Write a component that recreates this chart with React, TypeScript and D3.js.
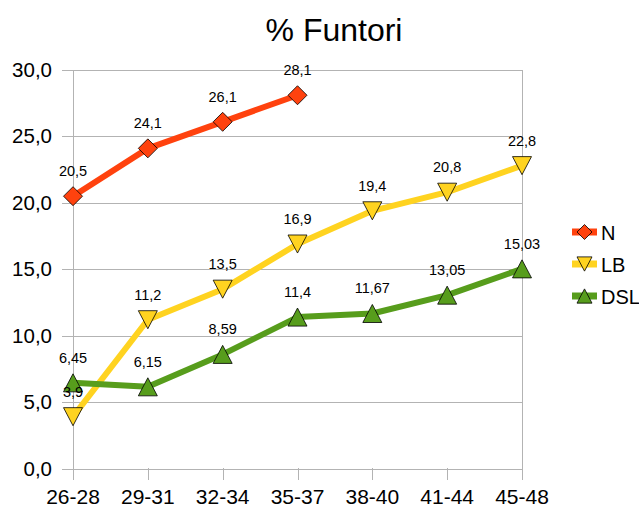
import { useEffect, useRef } from 'react';
import * as d3 from 'd3';

const W = 639;
const H = 515;

const categories = ['26-28', '29-31', '32-34', '35-37', '38-40', '41-44', '45-48'];
const nValues = [20.5, 24.1, 26.1, 28.1];
const lbValues = [3.9, 11.2, 13.5, 16.9, 19.4, 20.8, 22.8];
const dslValues = [6.45, 6.15, 8.59, 11.4, 11.67, 13.05, 15.03];
const yTicks = [0, 5, 10, 15, 20, 25, 30];

const series = [
  { name: 'N', values: nValues, color: '#ff420e', marker: 'diamond' },
  { name: 'LB', values: lbValues, color: '#ffd320', marker: 'down' },
  { name: 'DSL', values: dslValues, color: '#579d1c', marker: 'up' },
];

const FONT = 'Liberation Sans, Arial, sans-serif';
const GRID = '#b3b3b3';

function markerPath(kind: string, r: number) {
  if (kind === 'diamond') return `M0,${-r}L${r},0L0,${r}L${-r},0Z`;
  if (kind === 'down') return `M${-r},${-r * 0.95}L${r},${-r * 0.95}L0,${r * 0.95}Z`;
  return `M${-r},${r * 0.95}L${r},${r * 0.95}L0,${-r * 0.95}Z`;
}

const fmt = (v: number) => String(v).replace('.', ',');

export default function App() {
  const ref = useRef<SVGSVGElement>(null);

  useEffect(() => {
    const svg = d3.select(ref.current);
    svg.selectAll('*').remove();

    const x = d3.scalePoint<string>().domain(categories).range([73, 522]).padding(0);
    const y = d3.scaleLinear().domain([0, 30]).range([468.5, 70]);

    svg.append('text').attr('x', 334).attr('y', 41).attr('text-anchor', 'middle')
      .attr('font-family', FONT).attr('font-size', 32).attr('fill', '#000').text('% Funtori');

    const grid = svg.append('g');
    grid.selectAll('line.h').data(yTicks).join('line')
      .attr('x1', 62).attr('x2', 522)
      .attr('y1', (d) => Math.round(y(d)) + 0.5).attr('y2', (d) => Math.round(y(d)) + 0.5)
      .attr('stroke', GRID).attr('stroke-width', 1);
    grid.selectAll('line.v').data(categories).join('line')
      .attr('x1', (d) => Math.round(x(d)!) + 0.5).attr('x2', (d) => Math.round(x(d)!) + 0.5)
      .attr('y1', (d, i) => (i === 0 || i === categories.length - 1 ? 70 : 468))
      .attr('y2', 480)
      .attr('stroke', GRID).attr('stroke-width', 1);

    svg.append('g').selectAll('text').data(yTicks).join('text')
      .attr('x', 52).attr('y', (d) => y(d) + 7).attr('text-anchor', 'end')
      .attr('font-family', FONT).attr('font-size', 20.5).attr('fill', '#000')
      .text((d) => d.toFixed(1).replace('.', ','));

    svg.append('g').selectAll('text').data(categories).join('text')
      .attr('x', (d) => x(d)!).attr('y', 504).attr('text-anchor', 'middle')
      .attr('font-family', FONT).attr('font-size', 21).attr('fill', '#000')
      .text((d) => d);

    const line = d3.line<number>().x((_, i) => x(categories[i])!).y((d) => y(d));

    series.forEach((s) => {
      svg.append('path').datum(s.values).attr('d', line)
        .attr('fill', 'none').attr('stroke', s.color).attr('stroke-width', 6)
        .attr('stroke-linejoin', 'round');
    });

    series.forEach((s) => {
      const g = svg.append('g');
      g.selectAll('path').data(s.values).join('path')
        .attr('transform', (d, i) => `translate(${x(categories[i])},${y(d)})`)
        .attr('d', markerPath(s.marker, s.marker === 'diamond' ? 9.5 : 9.5))
        .attr('fill', s.color).attr('stroke', '#000').attr('stroke-width', 0.8);
    });

    series.forEach((s) => {
      svg.append('g').selectAll('text').data(s.values).join('text')
        .attr('x', (d, i) => x(categories[i])!).attr('y', (d) => y(d) - 20)
        .attr('text-anchor', 'middle').attr('font-family', FONT).attr('font-size', 14.5)
        .attr('fill', '#000').text((d) => fmt(d));
    });

    const legend = svg.append('g');
    series.forEach((s, i) => {
      const cy = 232 + i * 32;
      legend.append('line').attr('x1', 572).attr('x2', 597).attr('y1', cy).attr('y2', cy)
        .attr('stroke', s.color).attr('stroke-width', 7);
      legend.append('path').attr('transform', `translate(584.5,${cy})`)
        .attr('d', markerPath(s.marker, 7.5))
        .attr('fill', s.color).attr('stroke', '#000').attr('stroke-width', 0.8);
      legend.append('text').attr('x', 601).attr('y', cy + 8)
        .attr('font-family', FONT).attr('font-size', 20).attr('fill', '#000').text(s.name);
    });
  }, []);

  return (
    <div style={{ position: 'absolute', left: 0, top: 0, width: W, height: H, background: '#fff' }}>
      <svg ref={ref} width={W} height={H} />
    </div>
  );
}
